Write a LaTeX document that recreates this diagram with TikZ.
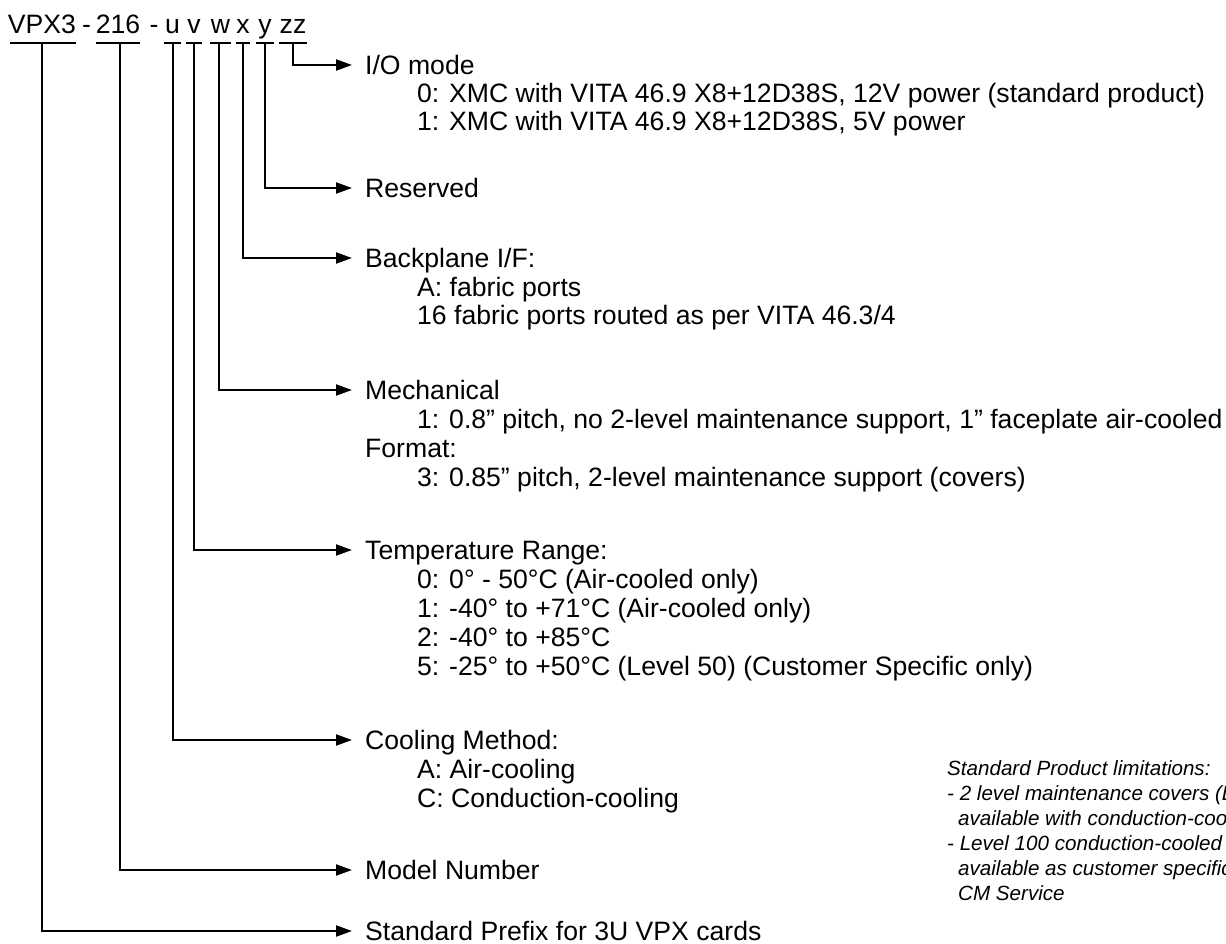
\documentclass[tikz,border=0pt]{standalone}
\usepackage{fontspec}
\setmainfont{Liberation Sans}
\usetikzlibrary{arrows.meta}
\newcommand\mainfs{\fontsize{26.6}{30}\selectfont}
\newcommand\notefs{\fontsize{20.6}{24}\selectfont\itshape}
\tikzset{
  tok/.style={anchor=base, inner sep=0pt, font=\mainfs},
  head/.style={anchor=base west, inner sep=0pt, font=\mainfs},
  sub/.style={anchor=base west, inner sep=0pt, font=\mainfs},
  note/.style={anchor=base west, inner sep=0pt, font=\notefs},
  uline/.style={line width=2pt},
  conn/.style={line width=2pt, line join=miter, -{Triangle[length=16pt,width=11pt]}},
}
\begin{document}
\begin{tikzpicture}[x=1pt,y=-1pt]
\useasboundingbox (0,0) rectangle (1226,944);
% code string
\node[tok] (tVPX) at (42,34) {VPX3};
\node[tok] (td1) at (86.5,34) {-};
\node[tok] (t216) at (118,34) {216};
\node[tok] (td2) at (154,34) {-};
\node[tok] (tu) at (172.5,34) {u};
\node[tok] (tv) at (194,34) {v};
\node[tok] (tw) at (220.5,34) {w};
\node[tok] (tx) at (243,34) {x};
\node[tok] (ty) at (265,34) {y};
\node[tok] (tz) at (293,34) {zz};
% underlines
\draw[uline] (10,43) -- (76,43);
\draw[uline] (96,43) -- (140,43);
\draw[uline] (164,43) -- (181,43);
\draw[uline] (186,43) -- (202,43);
\draw[uline] (210,43) -- (231,43);
\draw[uline] (236,43) -- (250,43);
\draw[uline] (256,43) -- (274,43);
\draw[uline] (279,43) -- (307,43);
% connector start points
\coordinate (sVPX) at (42,43);
\coordinate (s216) at (120,43);
\coordinate (su) at (173,43);
\coordinate (sv) at (194,43);
\coordinate (sw) at (219,43);
\coordinate (sx) at (243,43);
\coordinate (sy) at (265,43);
\coordinate (sz) at (293,43);
% arrow ends
\coordinate (eIO) at (352,65);
\coordinate (eRes) at (352,188);
\coordinate (eBack) at (352,258);
\coordinate (eMech) at (352,390);
\coordinate (eTemp) at (352,550);
\coordinate (eCool) at (352,740);
\coordinate (eModel) at (352,870);
\coordinate (ePre) at (352,931);
% texts
\node[head] (hIO) at (365,74.5) {I/O mode};
\node[sub] (io0) at (417,102.5) {0: XMC with VITA 46.9 X8+12D38S, 12V power (standard product)};
\node[sub] (io1) at (417,130.5) {1: XMC with VITA 46.9 X8+12D38S, 5V power};
\node[head] (hRes) at (365,197.5) {Reserved};
\node[head] (hBack) at (365,267.5) {Backplane I/F:};
\node[sub] (bA) at (417,296.5) {A: fabric ports};
\node[sub] (b16) at (417,324.5) {16 fabric ports routed as per VITA 46.3/4};
\node[head] (hMech) at (365,399.5) {Mechanical};
\node[sub] (m1) at (417,428.5) {1: 0.8{\char"201D} pitch, no 2-level maintenance support, 1{\char"201D} faceplate air-cooled};
\node[head] (hFmt) at (365,457.5) {Format:};
\node[sub] (m3) at (417,486.5) {3: 0.85{\char"201D} pitch, 2-level maintenance support (covers)};
\node[head] (hTemp) at (365,559.5) {Temperature Range:};
\node[sub] (t0) at (417,588.5) {0: 0° - 50°C (Air-cooled only)};
\node[sub] (t1) at (417,617.5) {1: -40° to +71°C (Air-cooled only)};
\node[sub] (t2) at (417,646.5) {2: -40° to +85°C};
\node[sub] (t5) at (417,675.5) {5: -25° to +50°C (Level 50) (Customer Specific only)};
\node[head] (hCool) at (365,749.5) {Cooling Method:};
\node[sub] (cA) at (417,778.5) {A: Air-cooling};
\node[sub] (cC) at (417,807.5) {C: Conduction-cooling};
\node[head] (hModel) at (365,879.5) {Model Number};
\node[head] (hPre) at (365,940.5) {Standard Prefix for 3U VPX cards};
% note
\node[note] (n0) at (947,775) {Standard Product limitations:};
\node[note] (n1) at (947,800) {- 2 level maintenance covers (L};
\node[note] (n2) at (958,825) {available with conduction-coo};
\node[note] (n3) at (947,850) {- Level 100 conduction-cooled};
\node[note] (n4) at (958,875) {available as customer specific};
\node[note] (n5) at (958,900) {CM Service};
% connectors
\draw[conn] (sz) |- (eIO);
\draw[conn] (sy) |- (eRes);
\draw[conn] (sx) |- (eBack);
\draw[conn] (sw) |- (eMech);
\draw[conn] (sv) |- (eTemp);
\draw[conn] (su) |- (eCool);
\draw[conn] (s216) |- (eModel);
\draw[conn] (sVPX) |- (ePre);
\end{tikzpicture}
\end{document}
